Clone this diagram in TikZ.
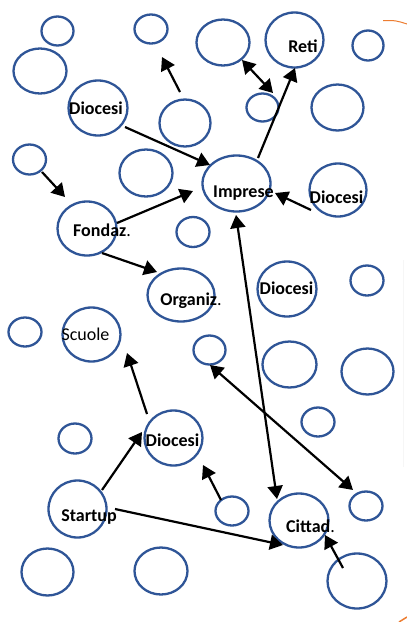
\documentclass[tikz,border=0pt]{standalone}
\usepackage{fontspec}
\setmainfont{Carlito}
\usetikzlibrary{arrows.meta,shapes.geometric}
\definecolor{ringblue}{RGB}{47,85,151}
\definecolor{orangeline}{RGB}{237,125,49}
\begin{document}
\begin{tikzpicture}[x=1pt,y=-1pt,
  ring/.style={draw=ringblue,line width=2.3pt,ellipse,inner sep=0pt,outer sep=0pt},
  lbl/.style={anchor=base,inner sep=0pt,font=\fontsize{18}{20}\selectfont},
  arr/.style={line width=2.2pt,-{Triangle[length=13pt,width=15pt]}},
  darr/.style={line width=2.2pt,{Triangle[length=13pt,width=15pt]}-{Triangle[length=13pt,width=15pt]}}]
\fill[white] (0,0) rectangle (407,622);
\useasboundingbox (0,0) rectangle (407,622);
% faint marks at the right edge
\draw[gray!7,line width=0.6pt] (403,260) -- (403,467);
\draw[orangeline,line width=1pt] (383,20.5) .. controls (396,20.5) .. (407,24);
\draw[orangeline,line width=1.5pt] (399,622) -- (407,617);
% ellipses
\node[ring,minimum width=32pt,minimum height=29pt] (e1) at (57.5,31) {};
\node[ring,minimum width=53pt,minimum height=45pt] (e2) at (40,71) {};
\node[ring,minimum width=59pt,minimum height=55pt] (dio1) at (98,108) {};
\node[ring,minimum width=33pt,minimum height=29pt] (e4) at (151,29) {};
\node[ring,minimum width=51pt,minimum height=47pt] (e5) at (185,123) {};
\node[ring,minimum width=33pt,minimum height=30pt] (e6) at (29.5,159.5) {};
\node[ring,minimum width=53pt,minimum height=47pt] (e7) at (146,173) {};
\node[ring,minimum width=53pt,minimum height=46pt] (e8) at (223,42.5) {};
\node[ring,minimum width=58pt,minimum height=55pt] (reti) at (294.5,40) {};
\node[ring,minimum width=31pt,minimum height=30pt] (e10) at (368,45.5) {};
\node[ring,minimum width=32pt,minimum height=28pt] (e11) at (262.5,107.5) {};
\node[ring,minimum width=52pt,minimum height=46pt] (e12) at (337.5,107.5) {};
\node[ring,minimum width=68pt,minimum height=56pt] (imp) at (236.5,183.5) {};
\node[ring,minimum width=57pt,minimum height=53pt] (dio2) at (338,190) {};
\node[ring,minimum width=59pt,minimum height=54pt] (fond) at (87,228.5) {};
\node[ring,minimum width=33pt,minimum height=30pt] (e16) at (193,232) {};
\node[ring,minimum width=67pt,minimum height=53pt] (org) at (181,295) {};
\node[ring,minimum width=33pt,minimum height=29pt] (e18) at (25,332) {};
\node[ring,minimum width=58pt,minimum height=54pt] (scu) at (91.5,334.5) {};
\node[ring,minimum width=32pt,minimum height=29pt] (e20) at (209.5,350) {};
\node[ring,minimum width=59pt,minimum height=55pt] (dio3) at (287,289) {};
\node[ring,minimum width=33pt,minimum height=30pt] (e22) at (367,280.5) {};
\node[ring,minimum width=54pt,minimum height=46pt] (e23) at (289.5,364.5) {};
\node[ring,minimum width=52pt,minimum height=46pt] (e24) at (367.5,371.5) {};
\node[ring,minimum width=33pt,minimum height=30pt] (e25) at (75,438.5) {};
\node[ring,minimum width=58pt,minimum height=55pt] (dio4) at (173.5,438) {};
\node[ring,minimum width=58pt,minimum height=57pt] (start) at (77.5,509) {};
\node[ring,minimum width=52pt,minimum height=47pt] (e28) at (47.5,572) {};
\node[ring,minimum width=53pt,minimum height=47pt] (e29) at (161,571) {};
\node[ring,minimum width=33pt,minimum height=29pt] (e30) at (318,422) {};
\node[ring,minimum width=33pt,minimum height=29pt] (e31) at (232,511) {};
\node[ring,minimum width=59pt,minimum height=54pt] (cit) at (299,520.5) {};
\node[ring,minimum width=33pt,minimum height=29pt] (e33) at (366,506) {};
\node[ring,minimum width=59pt,minimum height=55pt] (e34) at (357,581) {};
% labels
\node[lbl] (tdio1) at (96,114) {\textbf{Diocesi}};
\node[lbl] (treti) at (303,52) {\textbf{Reti}};
\node[lbl] (timp) at (243.5,197) {\textbf{Imprese}};
\node[lbl] (tdio2) at (336.5,203) {\textbf{Diocesi}};
\node[lbl] (tfond) at (102,236) {\textbf{Fondaz}.};
\node[lbl] (torg) at (191,305) {\textbf{Organiz}.};
\node[lbl] (tscu) at (85.5,340) {Scuole};
\node[lbl] (tdio3) at (286.5,294) {\textbf{Diocesi}};
\node[lbl] (tdio4) at (172.5,446) {\textbf{Diocesi}};
\node[lbl] (tstart) at (89,521) {\textbf{Startup}};
\node[lbl] (tcit) at (310.5,532) {\textbf{Cittad}.};
% connectors
\draw[arr] ([shift={(-5,-31)}]e5.center) -- ([shift={(11,28)}]e4.center);
\draw[arr] ([shift={(27,19)}]dio1.center) -- ([shift={(-26.5,-18.5)}]imp.center);
\draw[arr] ([shift={(12.5,12.5)}]e6.center) -- ([shift={(-22,-31.5)}]fond.center);
\draw[arr] ([shift={(30,-5.5)}]fond.center) -- ([shift={(-43.5,7.5)}]imp.center);
\draw[arr] ([shift={(15,24.5)}]fond.center) -- ([shift={(-24,-23)}]org.center);
\draw[darr] ([shift={(19,17.5)}]e8.center) -- ([shift={(10.5,-14.5)}]e11.center);
\draw[arr] ([shift={(21.5,-25.5)}]imp.center) -- ([shift={(0.5,28)}]reti.center);
\draw[arr] ([shift={(-27,20)}]dio2.center) -- ([shift={(38.5,9.5)}]imp.center);
\draw[darr] ([shift={(-0.5,31.5)}]imp.center) -- ([shift={(-22,-21.5)}]cit.center);
\draw[darr] ([shift={(0.5,15)}]e20.center) -- ([shift={(-13,-16)}]e33.center);
\draw[arr] ([shift={(-26.5,-24)}]dio4.center) -- ([shift={(35.5,18.5)}]scu.center);
\draw[arr] ([shift={(24.5,-19)}]start.center) -- ([shift={(-31.5,-6)}]dio4.center);
\draw[arr] ([shift={(37.5,0)}]start.center) -- ([shift={(-16,24.5)}]cit.center);
\draw[arr] ([shift={(-11,-11)}]e31.center) -- ([shift={(29.5,27)}]dio4.center);
\draw[arr] ([shift={(-14,-13)}]e34.center) -- ([shift={(26,14.5)}]cit.center);
\end{tikzpicture}
\end{document}
